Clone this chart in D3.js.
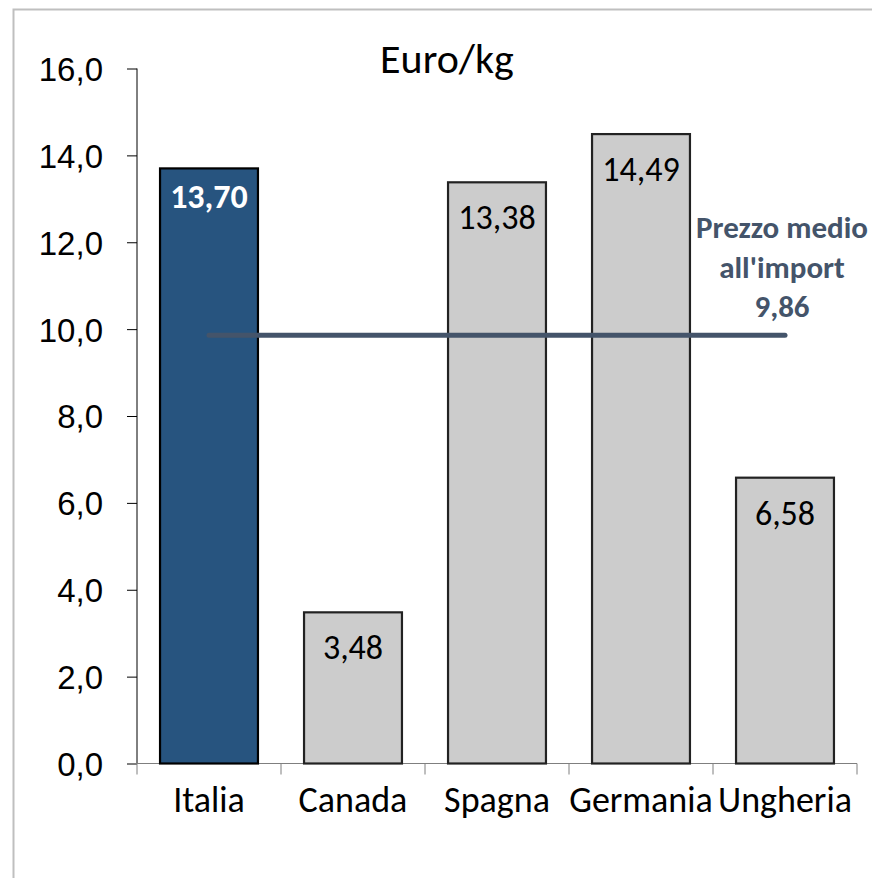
<!DOCTYPE html>
<html>
<head>
<meta charset="utf-8">
<script src="https://cdn.jsdelivr.net/npm/d3@7"></script>
<style>
  body { margin: 0; background: #fff; }
  svg { display: block; font-family: Carlito, Calibri, Lato, sans-serif; }
</style>
</head>
<body>
<div id="chart"></div>
<script>
const paesi = ["Italia", "Canada", "Spagna", "Germania", "Ungheria"];
const prezzi = [13.70, 3.48, 13.38, 14.49, 6.58];
const evidenziato = "Italia";
const prezzoMedio = 9.86;
const notaMedio = ["Prezzo medio", "all'import"];
const yTicks = [0, 2, 4, 6, 8, 10, 12, 14, 16];
const titolo = "Euro/kg";

const W = 872, H = 878;
const margin = {top: 68.5, right: 15, bottom: 114.5, left: 137}
    , width = W - margin.left - margin.right
    , height = H - margin.top - margin.bottom;

const it = d3.formatLocale({decimal: ",", thousands: ".", grouping: [3], currency: ["", "€"]});
const fmt1 = it.format(".1f"), fmt2 = it.format(".2f");

const svg = d3.select("#chart").append("svg")
    .attr("width", W)
    .attr("height", H);

// cornice
svg.append("rect")
    .attr("x", 13.5).attr("y", 9.5)
    .attr("width", W + 20).attr("height", H + 20)
    .attr("fill", "none")
    .attr("stroke", "#bfbfbf")
    .attr("stroke-width", 2);

const g = svg.append("g")
    .attr("transform", `translate(${margin.left},${margin.top})`);

const x = d3.scaleBand()
    .domain(paesi)
    .range([0, width])
    .paddingInner(0.32)
    .paddingOuter(0.16);

const y = d3.scaleLinear()
    .domain([0, 16])
    .range([height, 0]);

// asse y
const yAxis = g.append("g")
    .call(d3.axisLeft(y).tickValues(yTicks).tickFormat(fmt1).tickSize(10).tickPadding(24));
yAxis.select(".domain").attr("stroke", "#000").attr("d", `M0,0V${height}`);
yAxis.selectAll(".tick line").attr("stroke", "#000");
yAxis.selectAll("text")
    .attr("font-size", 33)
    .attr("fill", "#000")
    .attr("dy", "0.36em");

// asse x
const xBand = d3.scaleLinear().domain([0, paesi.length]).range([0, width]);
const xAxis = g.append("g")
    .attr("transform", `translate(0,${height})`);
xAxis.append("line")
    .attr("x1", -10).attr("x2", width)
    .attr("stroke", "#7f7f7f");
xAxis.selectAll(".sep")
    .data(d3.range(paesi.length + 1))
    .enter().append("line")
    .attr("class", "sep")
    .attr("x1", d => xBand(d)).attr("x2", d => xBand(d))
    .attr("y1", 0).attr("y2", 11)
    .attr("stroke", "#7f7f7f");
xAxis.selectAll(".lab")
    .data(paesi)
    .enter().append("text")
    .attr("class", "lab")
    .attr("x", d => x(d) + x.bandwidth() / 2)
    .attr("y", 48)
    .attr("text-anchor", "middle")
    .attr("font-size", 36)
    .attr("fill", "#000")
    .text(d => d);

// barre
const dati = paesi.map((p, i) => ({paese: p, valore: prezzi[i]}));
g.selectAll(".bar")
    .data(dati)
    .enter().append("rect")
    .attr("class", "bar")
    .attr("x", d => x(d.paese))
    .attr("y", d => y(d.valore))
    .attr("width", x.bandwidth())
    .attr("height", d => height - y(d.valore))
    .attr("fill", d => d.paese === evidenziato ? "#27547f" : "#cccccc")
    .attr("stroke", d => d.paese === evidenziato ? "#000" : "#222")
    .attr("stroke-width", 2.2);

g.selectAll(".val")
    .data(dati)
    .enter().append("text")
    .attr("class", "val")
    .attr("x", d => x(d.paese) + x.bandwidth() / 2)
    .attr("y", d => y(d.valore) + (d.paese === evidenziato ? 40 : 47))
    .attr("text-anchor", "middle")
    .attr("font-size", 34)
    .attr("font-weight", d => d.paese === evidenziato ? "bold" : "normal")
    .attr("fill", d => d.paese === evidenziato ? "#fff" : "#000")
    .text(d => fmt2(d.valore));

// linea prezzo medio
const x0 = x(paesi[0]) + x.bandwidth() / 2;
const x1 = x(paesi[paesi.length - 1]) + x.bandwidth() / 2;
g.append("line")
    .attr("x1", x0).attr("x2", x1)
    .attr("y1", y(prezzoMedio)).attr("y2", y(prezzoMedio))
    .attr("stroke", "#44546a")
    .attr("stroke-width", 5)
    .attr("stroke-linecap", "round");

g.append("text")
    .attr("x", x1 - 3)
    .attr("y", y(prezzoMedio) - 97)
    .attr("text-anchor", "middle")
    .attr("font-size", 31)
    .attr("font-weight", "bold")
    .attr("fill", "#44546a")
    .selectAll("tspan")
    .data(notaMedio.concat([fmt2(prezzoMedio)]))
    .enter().append("tspan")
    .attr("x", x1 - 3)
    .attr("dy", (d, i) => i === 0 ? 0 : 39.5)
    .text(d => d);

// titolo
svg.append("text")
    .attr("x", 447)
    .attr("y", 73)
    .attr("text-anchor", "middle")
    .attr("font-size", 42)
    .attr("fill", "#000")
    .text(titolo);
</script>
</body>
</html>
